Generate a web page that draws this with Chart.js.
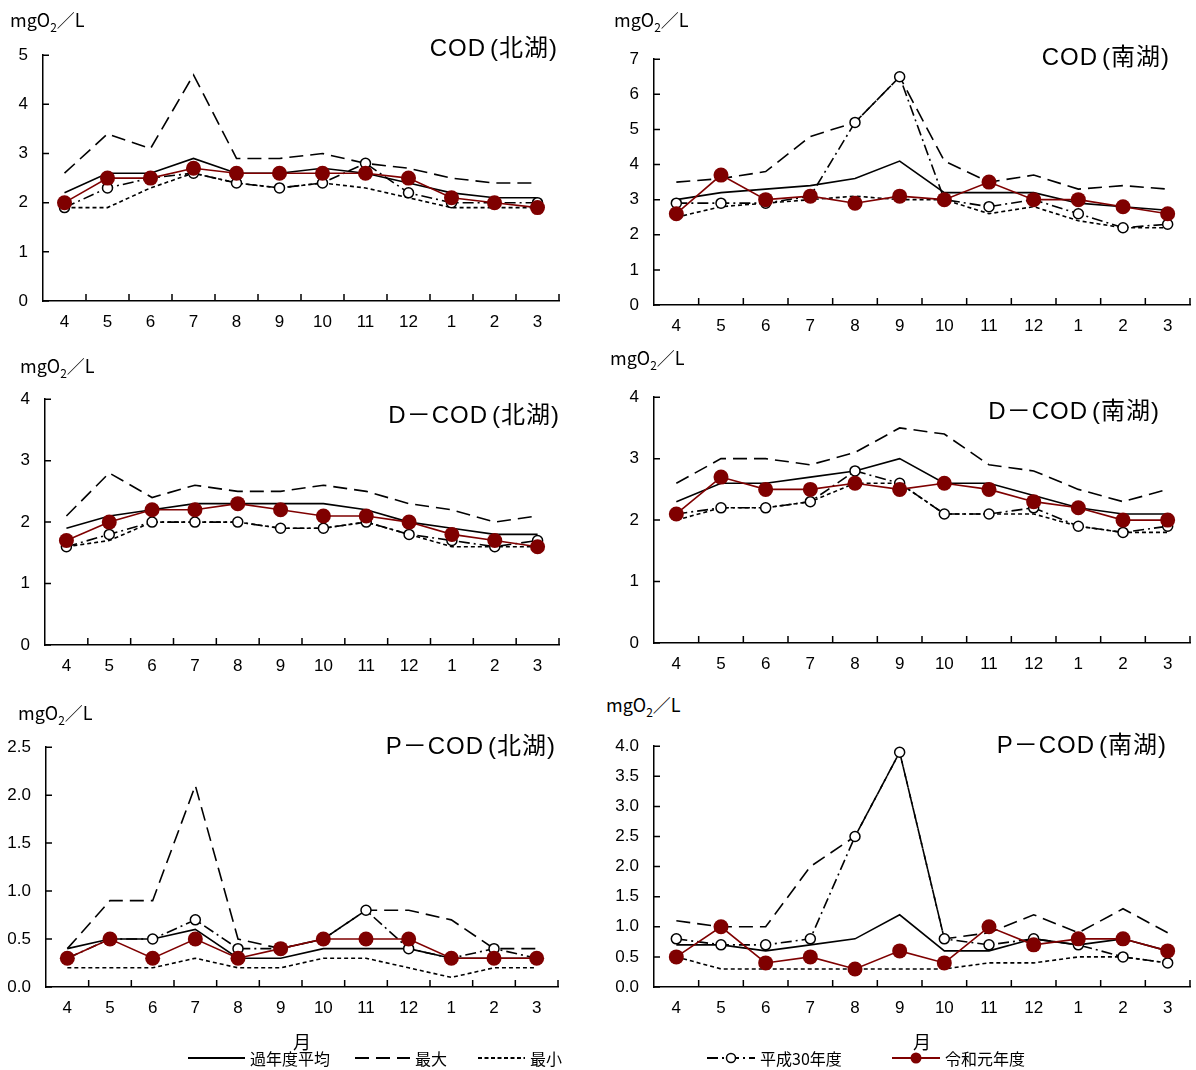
<!DOCTYPE html>
<html lang="ja">
<head>
<meta charset="utf-8">
<title>COD 月別変化</title>
<script src="https://cdn.jsdelivr.net/npm/chart.js@4.4.1/dist/chart.umd.min.js"></script>
<style>
  body { margin:0; background:#fff; width:1196px; height:1070px; position:relative; overflow:hidden;
         font-family:"Noto Sans CJK JP", "Noto Sans", sans-serif; color:#000; }
  .box { position:absolute; }
  .unit { position:absolute; font-size:18px; line-height:22px; white-space:nowrap; }
  .unit sub { font-size:12px; vertical-align:-5px; line-height:0; }
  .ttl { position:absolute; font-family:"Liberation Sans", "Noto Sans CJK JP", sans-serif; font-size:24px;
         line-height:28px; white-space:nowrap; letter-spacing:1px; }
  .ttl .p { margin-left:4px; }
  .lg { position:absolute; font-size:16px; line-height:20px; white-space:nowrap; }
  .lg svg { position:absolute; }
</style>
</head>
<body>

<script>
// 月 (4月〜翌3月)
const months = ['4','5','6','7','8','9','10','11','12','1','2','3'];

// COD 北湖
const codNorthAvg = [2.2, 2.6, 2.6, 2.9, 2.6, 2.6, 2.7, 2.6, 2.4, 2.2, 2.1, 2.1];
const codNorthMax = [2.6, 3.4, 3.1, 4.6, 2.9, 2.9, 3.0, 2.8, 2.7, 2.5, 2.4, 2.4];
const codNorthMin = [1.9, 1.9, 2.3, 2.6, 2.4, 2.3, 2.4, 2.3, 2.1, 1.9, 1.9, 1.9];
const codNorthH30 = [1.9, 2.3, 2.5, 2.6, 2.4, 2.3, 2.4, 2.8, 2.2, 2.0, 2.0, 2.0];
const codNorthR1  = [2.0, 2.5, 2.5, 2.7, 2.6, 2.6, 2.6, 2.6, 2.5, 2.1, 2.0, 1.9];

// COD 南湖
const codSouthAvg = [3.0, 3.2, 3.3, 3.4, 3.6, 4.1, 3.2, 3.2, 3.2, 2.9, 2.8, 2.7];
const codSouthMax = [3.5, 3.6, 3.8, 4.8, 5.2, 6.5, 4.1, 3.5, 3.7, 3.3, 3.4, 3.3];
const codSouthMin = [2.5, 2.8, 2.9, 3.0, 3.1, 3.0, 3.0, 2.6, 2.8, 2.4, 2.2, 2.2];
const codSouthH30 = [2.9, 2.9, 2.9, 3.1, 5.2, 6.5, 3.0, 2.8, 3.0, 2.6, 2.2, 2.3];
const codSouthR1  = [2.6, 3.7, 3.0, 3.1, 2.9, 3.1, 3.0, 3.5, 3.0, 3.0, 2.8, 2.6];

// D-COD 北湖
const dcodNorthAvg = [1.9, 2.1, 2.2, 2.3, 2.3, 2.3, 2.3, 2.2, 2.0, 1.9, 1.8, 1.8];
const dcodNorthMax = [2.1, 2.8, 2.4, 2.6, 2.5, 2.5, 2.6, 2.5, 2.3, 2.2, 2.0, 2.1];
const dcodNorthMin = [1.6, 1.7, 2.0, 2.0, 2.0, 1.9, 1.9, 2.0, 1.8, 1.6, 1.6, 1.6];
const dcodNorthH30 = [1.6, 1.8, 2.0, 2.0, 2.0, 1.9, 1.9, 2.0, 1.8, 1.7, 1.6, 1.7];
const dcodNorthR1  = [1.7, 2.0, 2.2, 2.2, 2.3, 2.2, 2.1, 2.1, 2.0, 1.8, 1.7, 1.6];

// D-COD 南湖
const dcodSouthAvg = [2.3, 2.6, 2.6, 2.7, 2.8, 3.0, 2.6, 2.6, 2.4, 2.2, 2.1, 2.1];
const dcodSouthMax = [2.6, 3.0, 3.0, 2.9, 3.1, 3.5, 3.4, 2.9, 2.8, 2.5, 2.3, 2.5];
const dcodSouthMin = [2.0, 2.2, 2.2, 2.3, 2.6, 2.6, 2.1, 2.1, 2.1, 1.9, 1.8, 1.8];
const dcodSouthH30 = [2.1, 2.2, 2.2, 2.3, 2.8, 2.6, 2.1, 2.1, 2.2, 1.9, 1.8, 1.9];
const dcodSouthR1  = [2.1, 2.7, 2.5, 2.5, 2.6, 2.5, 2.6, 2.5, 2.3, 2.2, 2.0, 2.0];

// P-COD 北湖
const pcodNorthAvg = [0.4, 0.5, 0.5, 0.6, 0.3, 0.3, 0.4, 0.4, 0.4, 0.3, 0.3, 0.3];
const pcodNorthMax = [0.4, 0.9, 0.9, 2.1, 0.5, 0.4, 0.5, 0.8, 0.8, 0.7, 0.4, 0.4];
const pcodNorthMin = [0.2, 0.2, 0.2, 0.3, 0.2, 0.2, 0.3, 0.3, 0.2, 0.1, 0.2, 0.2];
const pcodNorthH30 = [0.3, 0.5, 0.5, 0.7, 0.4, 0.4, 0.5, 0.8, 0.4, 0.3, 0.4, 0.3];
const pcodNorthR1  = [0.3, 0.5, 0.3, 0.5, 0.3, 0.4, 0.5, 0.5, 0.5, 0.3, 0.3, 0.3];

// P-COD 南湖
const pcodSouthAvg = [0.7, 0.7, 0.6, 0.7, 0.8, 1.2, 0.6, 0.6, 0.8, 0.7, 0.8, 0.6];
const pcodSouthMax = [1.1, 1.0, 1.0, 2.0, 2.5, 3.9, 0.8, 0.9, 1.2, 0.9, 1.3, 0.9];
const pcodSouthMin = [0.5, 0.3, 0.3, 0.3, 0.3, 0.3, 0.3, 0.4, 0.4, 0.5, 0.5, 0.4];
const pcodSouthH30 = [0.8, 0.7, 0.7, 0.8, 2.5, 3.9, 0.8, 0.7, 0.8, 0.7, 0.5, 0.4];
const pcodSouthR1  = [0.5, 1.0, 0.4, 0.5, 0.3, 0.6, 0.4, 1.0, 0.7, 0.8, 0.8, 0.6];

const RED = '#7f0000';
const TICK_FONT = { family: '"Liberation Sans", Arial, sans-serif', size: 17 };

// ticks pointing into the plot, like the original
const inwardTicks = {
  id: 'inwardTicks',
  afterDraw(chart) {
    const { ctx, chartArea: a, scales: { x, y } } = chart;
    ctx.save();
    ctx.strokeStyle = '#000';
    ctx.lineWidth = 1.5;
    ctx.beginPath();
    for (let i = 1; i <= months.length; i++) {
      const px = i < months.length ? (x.getPixelForValue(i - 1) + x.getPixelForValue(i)) / 2 : a.right;
      ctx.moveTo(px, a.bottom); ctx.lineTo(px, a.bottom - 7);
    }
    y.ticks.forEach(t => {
      const py = y.getPixelForValue(t.value);
      ctx.moveTo(a.left, py); ctx.lineTo(a.left + 6, py);
    });
    ctx.stroke();
    ctx.restore();
  }
};

function makeSets(avg, max, min, h30, r1) {
  const base = { fill: false, tension: 0, borderWidth: 1.6, pointRadius: 0, borderColor: '#000', clip: false };
  return [
    { ...base, label: '令和元年度', data: r1, borderColor: RED, pointRadius: 7.5, pointBackgroundColor: RED, pointBorderColor: RED, pointBorderWidth: 0 },
    { ...base, label: '平成30年度', data: h30, borderDash: [11, 4, 2, 4], pointRadius: 5, pointBackgroundColor: '#fff', pointBorderColor: '#000', pointBorderWidth: 1.5 },
    { ...base, label: '過年度平均', data: avg },
    { ...base, label: '最大', data: max, borderDash: [14, 7] },
    { ...base, label: '最小', data: min, borderDash: [4, 3] }
  ];
}

const panels = [
  { name: 'COD', lake: '北湖', sets: [codNorthAvg, codNorthMax, codNorthMin, codNorthH30, codNorthR1], max: 5, step: 1, dec: 0,
    area: [43, 559, 45, 301],   unit: [10, 8],    ttl: [558, 34] },
  { name: 'COD', lake: '南湖', sets: [codSouthAvg, codSouthMax, codSouthMin, codSouthH30, codSouthR1], max: 7, step: 1, dec: 0,
    area: [654, 1190, 49, 305], unit: [614, 8],   ttl: [1170, 43] },
  { name: 'D－COD', lake: '北湖', sets: [dcodNorthAvg, dcodNorthMax, dcodNorthMin, dcodNorthH30, dcodNorthR1], max: 4, step: 1, dec: 0,
    area: [45, 559, 389, 645],  unit: [20, 354],  ttl: [560, 401] },
  { name: 'D－COD', lake: '南湖', sets: [dcodSouthAvg, dcodSouthMax, dcodSouthMin, dcodSouthH30, dcodSouthR1], max: 4, step: 1, dec: 0,
    area: [654, 1190, 387, 643], unit: [610, 346], ttl: [1160, 397] },
  { name: 'P－COD', lake: '北湖', sets: [pcodNorthAvg, pcodNorthMax, pcodNorthMin, pcodNorthH30, pcodNorthR1], max: 2.5, step: 0.5, dec: 1,
    area: [46, 558, 737, 987],  unit: [18, 701],  ttl: [556, 732], month: true },
  { name: 'P－COD', lake: '南湖', sets: [pcodSouthAvg, pcodSouthMax, pcodSouthMin, pcodSouthH30, pcodSouthR1], max: 4, step: 0.5, dec: 1,
    area: [654, 1190, 736, 987], unit: [606, 693], ttl: [1167, 731], month: true }
];

const Y_W = 50, PAD_T = 15, PAD_R = 10;

panels.forEach(p => {
  const [l, r, t, b] = p.area;
  const xh = p.month ? 66 : 40;
  const box = document.createElement('div');
  box.className = 'box';
  box.style.left = (l - Y_W) + 'px';
  box.style.top = (t - PAD_T) + 'px';
  const cv = document.createElement('canvas');
  cv.width = r - l + Y_W + PAD_R;
  cv.height = b - t + PAD_T + xh;
  box.appendChild(cv);
  document.body.appendChild(box);

  const u = document.createElement('div');
  u.className = 'unit';
  u.style.left = p.unit[0] + 'px';
  u.style.top = p.unit[1] + 'px';
  u.innerHTML = 'mgO<sub>2</sub>／L';
  document.body.appendChild(u);

  const tt = document.createElement('div');
  tt.className = 'ttl';
  tt.style.right = (1196 - p.ttl[0]) + 'px';
  tt.style.top = p.ttl[1] + 'px';
  tt.innerHTML = `${p.name}<span class="p">(${p.lake})</span>`;
  document.body.appendChild(tt);

  new Chart(cv, {
    type: 'line',
    data: { labels: months, datasets: makeSets(...p.sets) },
    options: {
      responsive: false, animation: false, devicePixelRatio: 1,
      layout: { padding: { top: PAD_T, right: PAD_R, left: 0, bottom: 0 } },
      plugins: { legend: { display: false }, tooltip: { enabled: false } },
      scales: {
        x: {
          offset: true,
          grid: { display: true, drawOnChartArea: false, drawTicks: false },
          border: { color: '#000', width: 1.5 },
          ticks: { color: '#000', font: TICK_FONT, padding: 11, maxRotation: 0, autoSkip: false },
          title: { display: !!p.month, text: '月', color: '#000', padding: { top: 4, bottom: 0 },
                   font: { family: '"Noto Sans CJK JP", sans-serif', size: 18 } },
          afterFit: s => { s.height = xh; }
        },
        y: {
          min: 0, max: p.max,
          grid: { display: true, drawOnChartArea: false, drawTicks: false },
          border: { color: '#000', width: 1.5 },
          ticks: { stepSize: p.step, color: '#000', font: TICK_FONT, padding: 15,
                   callback: v => Number(v).toFixed(p.dec) },
          afterFit: s => { s.width = Y_W; }
        }
      }
    },
    plugins: [inwardTicks]
  });
});

// legend (split under the two bottom charts)
function legendItem(x, y, w, text, dash, color, marker) {
  const d = document.createElement('div');
  d.className = 'lg';
  d.style.left = x + 'px';
  d.style.top = (y - 10) + 'px';
  const mid = w / 2;
  let m = '';
  if (marker === 'open') m = `<circle cx="${mid}" cy="10" r="4.5" fill="#fff" stroke="#000" stroke-width="1.5"/>`;
  if (marker === 'fill') m = `<circle cx="${mid}" cy="10" r="5.5" fill="${color}"/>`;
  d.innerHTML = `<svg width="${w}" height="20" style="left:0;top:0"><line x1="0" y1="10" x2="${w}" y2="10" stroke="${color}" stroke-width="1.8" ${dash ? `stroke-dasharray="${dash}"` : ''}/>${m}</svg>` +
    `<span style="position:absolute;left:${w + 5}px;top:0">${text}</span>`;
  document.body.appendChild(d);
}
legendItem(188, 1058, 57, '過年度平均', '', '#000');
legendItem(355, 1058, 55, '最大', '14,7', '#000');
legendItem(478, 1058, 47, '最小', '4,2.5', '#000');
legendItem(707, 1058, 48, '平成30年度', '11,4,2,4', '#000', 'open');
legendItem(892, 1058, 48, '令和元年度', '', RED, 'fill');
</script>
</body>
</html>
